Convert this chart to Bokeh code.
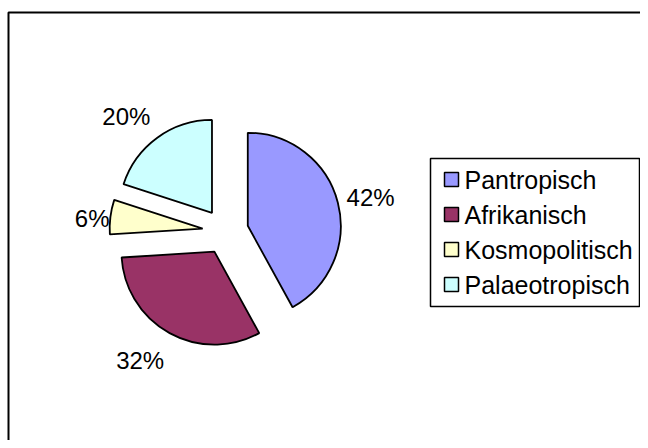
import math
from bokeh.plotting import figure
from bokeh.models import Range1d, ColumnDataSource
from bokeh.core.properties import value
from bokeh.embed import file_html
from bokeh.resources import INLINE

# ---- data ----
categories = ["Pantropisch", "Afrikanisch", "Kosmopolitisch", "Palaeotropisch"]
percentages = [42, 32, 6, 20]
colors = ["#9999FF", "#993366", "#FFFFCC", "#CCFFFF"]

# label placement (style): distance from pie centre and angular nudge (deg)
label_dist = [149, 155, 134, 152]
label_nudge = [1.2, 4.6, -1.6, -4.7]

# ---- layout (1 data unit = 1 px) ----
W, H = 640, 440
cx, cy = 225, 209      # pie centre
R = 93                 # radius
EXPLODE = 23           # explosion offset
FONT = "Liberation Sans"

p = figure(width=W, height=H, output_backend="svg", toolbar_location=None,
           x_range=Range1d(0, W), y_range=Range1d(0, H),
           min_border=0, min_border_left=0, min_border_right=0,
           min_border_top=0, min_border_bottom=0)
p.axis.visible = False
p.grid.visible = False
p.outline_line_color = None
p.background_fill_color = "white"
p.border_fill_color = "white"

# outer chart border (right/bottom edges fall outside the page)
p.quad(left=8, right=W + 200, top=428, bottom=-200, fill_color=None,
       line_color="black", line_width=2)

# pie wedges, clockwise from 12 o'clock
total = sum(percentages)
starts, ends, xs, ys, lx, ly, labels = [], [], [], [], [], [], []
acc = 0.0
for v, dist, nudge in zip(percentages, label_dist, label_nudge):
    t1 = acc / total * 360.0
    t2 = (acc + v) / total * 360.0
    acc += v
    mid = (t1 + t2) / 2.0
    m = math.radians(90 - mid)
    starts.append(math.radians(90 - t2))
    ends.append(math.radians(90 - t1))
    xs.append(cx + EXPLODE * math.cos(m))
    ys.append(cy + EXPLODE * math.sin(m))
    ml = math.radians(90 - (mid + nudge))
    lx.append(cx + dist * math.cos(ml))
    ly.append(cy + dist * math.sin(ml))
    labels.append(f"{v}%")

src = ColumnDataSource(dict(x=xs, y=ys, start=starts, end=ends, color=colors))
p.wedge(x="x", y="y", radius=R, start_angle="start", end_angle="end",
        fill_color="color", line_color="black", line_width=1.8, source=src)

p.text(x=lx, y=ly, text=labels, text_font=value(FONT), text_font_size="24px",
       text_align="center", text_baseline="middle", text_color="black")

# legend (drawn manually)
LX0, LX1, LY0, LY1 = 430, 639, 134, 282
p.quad(left=LX0, right=LX1, bottom=LY0, top=LY1, fill_color="white",
       line_color="black", line_width=1.5)
row_y = [261 - 35 * i for i in range(len(categories))]
p.rect(x=[451] * len(categories), y=row_y, width=14, height=14,
       fill_color=colors, line_color="black", line_width=1.5)
p.text(x=[464] * len(categories), y=row_y, text=categories,
       text_font=value(FONT), text_font_size="25px", text_align="left",
       text_baseline="middle", text_color="black")

open("out.html", "w").write(file_html(p, INLINE))
